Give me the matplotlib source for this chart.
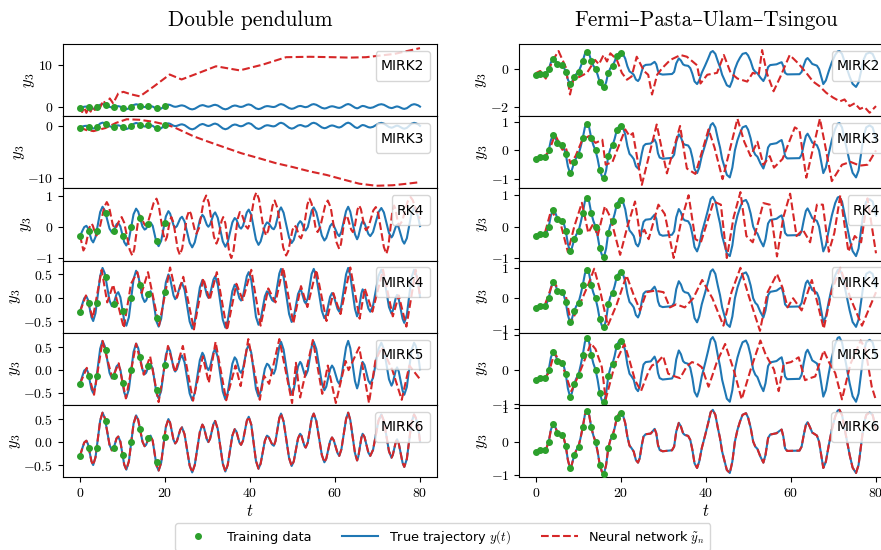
import matplotlib
matplotlib.use("Agg")
import matplotlib.pyplot as plt
from matplotlib.lines import Line2D

plt.rcParams['mathtext.fontset'] = 'cm'
plt.rcParams['font.family'] = ['cmr10', 'DejaVu Serif']
plt.rcParams['axes.formatter.use_mathtext'] = True
plt.rcParams['axes.unicode_minus'] = True

# ---------------- data ----------------
methods = ['MIRK2', 'MIRK3', 'RK4', 'MIRK4', 'MIRK5', 'MIRK6']

# double pendulum, training samples
dp_train_t = [0, 2, 4, 6, 8, 10, 12, 14, 16, 18, 20]
dp_train_y = [-0.30, -0.12, -0.12, 0.45, -0.13, -0.28, 0.00, 0.28, 0.09, -0.44, 0.12]

# double pendulum, true trajectory (t, y)
dp_true = [(0, -0.30), (0.6, -0.12), (1.0, -0.01), (1.5, 0.03), (1.9, -0.05), (2.7, -0.42),
           (3.1, -0.50), (3.65, -0.33), (4.75, 0.47), (5.3, 0.64), (5.85, 0.52), (6.95, -0.06),
           (7.5, -0.18), (7.9, -0.14), (8.6, 0.08), (9.0, 0.12), (9.5, 0.01), (10.4, -0.49),
           (10.9, -0.60), (11.5, -0.42), (12.6, 0.40), (13.2, 0.58), (13.7, 0.48), (14.7, 0.01),
           (15.2, -0.09), (15.55, -0.06), (16.25, 0.11), (16.6, 0.14), (17.1, 0.03), (18.0, -0.51),
           (18.5, -0.62), (19.1, -0.45), (20.2, 0.33), (20.8, 0.50), (21.2, 0.42), (22.0, 0.05),
           (22.4, -0.03), (22.8, 0.02), (23.6, 0.27), (24.0, 0.32), (24.6, 0.17), (25.8, -0.51),
           (26.4, -0.66), (27.0, -0.50), (28.2, 0.22), (28.8, 0.38), (29.15, 0.32), (29.85, 0.06),
           (30.2, 0.00), (30.6, 0.07), (31.4, 0.39), (31.8, 0.46), (32.4, 0.29), (33.6, -0.47),
           (34.2, -0.64), (34.75, -0.50), (35.85, 0.14), (36.4, 0.28), (36.8, 0.23), (37.5, -0.01),
           (37.9, -0.06), (38.35, 0.03), (39.25, 0.46), (39.7, 0.55), (40.3, 0.38), (41.4, -0.41),
           (42.0, -0.58), (42.5, -0.47), (43.5, 0.03), (44.0, 0.14), (44.4, 0.11), (45.2, -0.05),
           (45.6, -0.08), (46.0, 0.02), (46.9, 0.52), (47.3, 0.62), (47.9, 0.45), (49.2, -0.35),
           (49.8, -0.52), (50.3, -0.42), (51.3, 0.08), (51.8, 0.18), (52.1, 0.14), (52.8, -0.08),
           (53.1, -0.12), (53.6, -0.01), (54.5, 0.51), (55.0, 0.62), (55.6, 0.46), (56.9, -0.28),
           (57.5, -0.44), (57.95, -0.36), (58.85, 0.02), (59.3, 0.10), (59.7, 0.04), (60.6, -0.24),
           (61.0, -0.30), (61.5, -0.16), (62.6, 0.50), (63.1, 0.64), (63.6, 0.48), (64.7, -0.24),
           (65.2, -0.40), (65.5, -0.31), (66.2, 0.09), (66.5, 0.18), (66.95, 0.11), (67.85, -0.23),
           (68.3, -0.30), (68.95, -0.17), (70.25, 0.47), (70.9, 0.60), (71.5, 0.46), (72.7, -0.20),
           (73.3, -0.34), (73.6, -0.28), (74.3, 0.00), (74.6, 0.06), (75.0, -0.03), (75.9, -0.45),
           (76.3, -0.54), (76.9, -0.37), (78.0, 0.43), (78.6, 0.60), (79.0, 0.53), (79.6, 0.30),
           (80, 0.02)]

# double pendulum, neural network per method (t, y)
dp_nn_mirk2 = [(0, -0.3), (0.5, -1.3), (1.0, -0.2), (1.5, -1.5), (2.0, -0.4), (2.5, -1.2), (3.0, 0.2),
               (3.5, -0.8), (4.0, 0.6), (4.7, -0.3), (5.5, 1.5), (6.2, 0.3), (7.0, 2.0), (7.8, 0.8),
               (9.0, 3.2), (10.2, 3.6), (12.0, 3.0), (14.1, 2.5), (17.5, 5.0), (21.1, 7.8),
               (23.9, 6.6), (28, 8.2), (32.0, 9.8), (37.6, 8.8), (43, 10.2), (48.5, 12.0), (54, 12.1),
               (59.5, 12.0), (63.5, 11.9), (67.3, 12.0), (74, 12.8), (80, 14.2)]
dp_nn_mirk3 = [(0, -0.3), (1.5, -0.8), (3.2, -1.0), (6, -0.4), (8.5, 0.6), (11, 1.3), (14, 1.2),
               (17.3, 0.8), (20, 0.3), (22, -0.2), (26.7, -2.0), (30, -3.0), (34.5, -4.3), (38, -5.3),
               (42.3, -6.3), (46, -7.2), (50.2, -8.0), (54, -8.8), (58, -9.5), (62, -10.4),
               (65.7, -11.2), (69.7, -11.6), (73.6, -11.5), (77, -11.2), (80, -10.9)]
dp_nn_rk4 = [(0, -0.28), (0.8, -0.76), (1.3, -0.63), (2.2, -0.03), (2.7, 0.10), (3.0, 0.04),
             (3.6, -0.22), (3.9, -0.28), (4.5, -0.12), (5.7, 0.63), (6.3, 0.79), (6.8, 0.66),
             (7.7, 0.07), (8.2, -0.06), (8.6, 0.0), (9.4, 0.25), (9.8, 0.31), (10.4, 0.13),
             (11.7, -0.74), (12.3, -0.92), (12.75, -0.73), (13.65, 0.17), (14.1, 0.36), (14.4, 0.31),
             (15.1, 0.09), (15.4, 0.04), (16.05, 0.17), (17.35, 0.77), (18.0, 0.90), (18.5, 0.70),
             (19.6, -0.24), (20.1, -0.44), (20.45, -0.33), (21.15, 0.20), (21.5, 0.31), (22.0, 0.13),
             (23.0, -0.72), (23.5, -0.90), (24.05, -0.69), (25.15, 0.31), (25.7, 0.52), (26.1, 0.41),
             (27.0, -0.11), (27.4, -0.22), (28.0, -0.04), (29.1, 0.82), (29.7, 1.00), (30.3, 0.77),
             (31.5, -0.31), (32.1, -0.54), (32.5, -0.41), (33.3, 0.18), (33.7, 0.31), (34.2, 0.11),
             (35.1, -0.80), (35.6, -1.00), (36.1, -0.78), (37.1, 0.25), (37.6, 0.47), (38.1, 0.39),
             (39.0, 0.02), (39.5, -0.06), (40.0, 0.11), (41.0, 0.93), (41.5, 1.10), (42.1, 0.89),
             (43.2, -0.07), (43.8, -0.28), (44.3, -0.11), (45.3, 0.67), (45.8, 0.84), (46.5, 0.58),
             (47.8, -0.66), (48.5, -0.92), (49.0, -0.78), (50.0, -0.10), (50.5, 0.04), (50.9, -0.02),
             (51.6, -0.31), (52.0, -0.37), (52.5, -0.18), (53.5, 0.71), (54.0, 0.90), (54.5, 0.74),
             (55.4, -0.01), (55.9, -0.17), (56.5, -0.02), (57.7, 0.69), (58.3, 0.84), (59.0, 0.61),
             (60.3, -0.48), (61.0, -0.71), (61.4, -0.55), (62.2, 0.20), (62.6, 0.36), (63.0, 0.28),
             (63.8, -0.09), (64.2, -0.17), (64.6, -0.04), (65.3, 0.55), (65.7, 0.68), (66.1, 0.56),
             (66.9, 0.01), (67.3, -0.11), (67.9, 0.0), (69.0, 0.52), (69.6, 0.63), (70.2, 0.41),
             (71.5, -0.65), (72.1, -0.87), (72.55, -0.64), (73.45, 0.45), (73.9, 0.68), (74.2, 0.58),
             (74.8, 0.14), (75.1, 0.04), (75.8, 0.18), (77.1, 0.81), (77.8, 0.95), (78.3, 0.85),
             (79.2, 0.5), (80, 0.26)]
dp_nn_mirk4 = [(0, -0.3), (1.4, 0.05), (3.0, -0.44), (5.1, 0.6), (6.4, -0.1), (7.8, 0.28), (10.3, -0.65),
               (12.0, 0.3), (13.5, 0.55), (14.5, 0.1), (16.0, 0.55), (18.6, -0.6), (21.2, 0.65),
               (22.8, 0.0), (24.3, 0.45), (26.8, -0.68), (29.0, 0.42), (30.5, -0.05), (32.2, 0.55),
               (34.6, -0.7), (36.8, 0.3), (38.3, -0.05), (40.3, 0.6), (42.5, -0.6), (44.3, 0.2),
               (46.0, -0.1), (47.8, 0.65), (50.2, -0.55), (52.0, 0.25), (53.5, -0.2), (55.6, 0.6),
               (58.0, -0.5), (59.6, 0.1), (61.3, -0.35), (63.6, 0.65), (65.8, -0.45), (67.0, 0.2),
               (68.8, -0.3), (71.3, 0.6), (73.6, -0.4), (75.0, 0.05), (76.8, -0.62), (79.0, 0.6),
               (80, 0.05)]
dp_nn_mirk5 = [(0, -0.3), (1.6, 0.05), (3.3, -0.54), (5.3, 0.64), (7.6, -0.18), (9.1, 0.15), (10.8, -0.62),
               (13.2, 0.58), (15.0, -0.1), (16.5, 0.3), (18.5, -0.7), (20.7, 0.53), (22.4, -0.05),
               (24.2, 0.53), (26.6, -0.67), (28.9, 0.3), (30.3, -0.28), (31.9, 0.62), (34.4, -0.66),
               (36.6, 0.1), (37.8, -0.35), (39.6, 0.68), (42.3, -0.65), (43.3, -0.12), (44.5, -0.3),
               (46.9, 0.68), (49.9, -0.72), (50.8, 0.16), (51.8, -0.6), (54.8, 0.66), (57.0, -0.52),
               (58.3, 0.1), (60.2, -0.72), (62.5, 0.2), (63.2, 0.0), (65.7, 0.5), (68.0, -0.72),
               (69.5, 0.2), (71.0, 0.5), (73.5, 0.0), (75.7, -0.65), (77.5, 0.1), (80, -0.2)]

# Fermi-Pasta-Ulam-Tsingou, training samples
fput_train_t = [0, 1, 2, 3, 4, 5, 6, 7, 8, 9, 10, 11, 12, 13, 14, 15, 16, 17, 18, 19, 20]
fput_train_y = [-0.31, -0.24, -0.24, 0.00, 0.52, 0.25, 0.19, -0.13, -0.79, -0.41, -0.15, 0.43,
                0.92, 0.43, 0.00, -0.69, -0.96, -0.20, 0.17, 0.70, 0.85]

fput_true = [(0, -0.31), (0.5, -0.27), (1.0, -0.24), (1.5, -0.27), (2.0, -0.25), (2.5, -0.18), (3.0, 0.0),
             (3.5, 0.35), (4.1, 0.56), (4.6, 0.42), (5.0, 0.28), (5.5, 0.22), (6.0, 0.20), (6.5, 0.12),
             (7.0, -0.13), (7.5, -0.55), (8.0, -0.79), (8.4, -0.70), (9.0, -0.41), (9.5, -0.25),
             (10.0, -0.15), (10.5, 0.12), (11.0, 0.43), (11.5, 0.80), (12.0, 0.95), (12.5, 0.80),
             (13.0, 0.43), (13.5, 0.18), (14.0, 0.0), (14.5, -0.30), (15.0, -0.69), (15.5, -0.90),
             (16.0, -0.96), (16.5, -0.70), (17.0, -0.20), (17.5, 0.05), (18.0, 0.17), (18.5, 0.40),
             (19.0, 0.70), (19.5, 0.83), (20.0, 0.87), (20.4, 0.82), (21.0, 0.55), (21.5, 0.15),
             (22.0, -0.12), (22.5, -0.20), (23.0, -0.30), (23.5, -0.55), (24.0, -0.63), (24.4, -0.50),
             (24.9, -0.10), (25.3, 0.15), (25.8, 0.22), (27.0, 0.24), (27.5, 0.32), (27.9, 0.38),
             (28.3, 0.25), (28.7, -0.10), (29.1, -0.25), (29.8, -0.29), (32.0, -0.26), (32.5, -0.15),
             (33.0, 0.30), (33.6, 0.56), (34.1, 0.45), (34.6, 0.25), (35.0, 0.20), (35.8, 0.17),
             (36.3, 0.05), (36.8, -0.25), (37.3, -0.65), (37.9, -0.79), (38.4, -0.60), (39.0, -0.20),
             (39.8, 0.19), (40.5, 0.55), (41.1, 0.88), (41.6, 0.95), (42.2, 0.80), (42.8, 0.40),
             (43.3, 0.10), (43.8, -0.30), (44.4, -0.60), (44.9, -0.85), (45.6, -0.94), (46.2, -0.60),
             (46.8, 0.0), (47.4, 0.35), (48.0, 0.60), (48.6, 0.80), (49.4, 0.85), (49.9, 0.72),
             (50.5, 0.42), (51.1, 0.0), (51.6, -0.15), (52.1, -0.22), (52.8, -0.45), (53.5, -0.63),
             (54.0, -0.40), (54.6, 0.10), (55.1, 0.21), (56.6, 0.25), (57.3, 0.32), (57.8, 0.36),
             (58.2, 0.15), (58.6, -0.20), (59.1, -0.28), (62.0, -0.27), (62.5, -0.15), (63.0, 0.20),
             (63.5, 0.50), (63.9, 0.58), (64.4, 0.45), (65.0, 0.27), (66.1, 0.18), (66.6, 0.0),
             (67.1, -0.40), (67.6, -0.79), (68.2, -0.60), (68.9, -0.10), (69.6, 0.35), (70.4, 0.75),
             (71.0, 0.93), (71.4, 0.95), (72.0, 0.80), (72.6, 0.40), (73.2, 0.0), (73.8, -0.40),
             (74.5, -0.78), (75.3, -0.94), (75.9, -0.70), (76.5, -0.10), (77.1, 0.50), (77.7, 0.80),
             (78.5, 0.87), (79.2, 0.80), (79.7, 0.55), (80, 0.35)]

fput_nn_mirk2 = [(0, -0.21), (1, -0.1), (2.3, -0.5), (3.1, 0.0), (3.9, 0.44), (5.3, 0.95), (7.0, 0.1),
                 (8.0, -1.34), (8.8, -0.56), (10.4, -0.39), (12.0, -0.2), (13.9, 0.48), (14.8, 0.25),
                 (15.9, 0.74), (16.7, 0.4), (17.5, 0.83), (19, 0.5), (20.2, -0.2), (21.4, -0.56),
                 (22.5, -0.39), (23.7, 0.65), (24.5, 0.3), (25.4, -0.1), (26.4, -0.3), (27.3, -1.34),
                 (28.5, -0.3), (29.7, 0.05), (31.6, 0.48), (34.0, 0.74), (35.5, 0.65), (37.9, 0.2),
                 (38.7, -0.76), (40.3, -0.3), (42.6, -0.2), (44.2, 0.74), (45.8, -0.2), (47.4, -0.5),
                 (49.7, -0.66), (51, -0.2), (52.4, -0.3), (53.2, 1.0), (54.3, -0.2), (55.9, -1.17),
                 (57.5, -0.4), (59.7, 0.74), (61.7, 0.3), (63.6, -0.2), (65.2, -0.66), (66.7, -0.9),
                 (68.3, -1.25), (69.9, -1.5), (71.5, -1.7), (72.6, -1.6), (73.8, -1.95), (75, -1.8),
                 (76.2, -2.1), (77.3, -2.0), (78.5, -2.3), (80, -1.95)]
fput_nn_mirk3 = [(0, -0.27), (2, -0.2), (3, -0.05), (4.5, 0.55), (6.2, 0.02), (7, 0.1), (8.1, -0.45),
                 (9.3, -0.2), (10.9, 0.37), (12.5, 0.5), (14.0, 0.26), (15.6, 0.37), (16.4, -0.5),
                 (18, -0.4), (21, 0.73), (22, 0.5), (22.8, 0.6), (24.9, -1.2), (28.4, 0.9), (30.8, -0.8),
                 (33.9, 0.85), (35.5, -0.63), (37.5, -0.82), (40.6, 0.73), (42, 0.1), (43.9, -1.0),
                 (47.4, 1.1), (49, 0.3), (50.5, -0.2), (52.1, 0.3), (53.5, -0.5), (55, -0.2), (56, -0.6),
                 (58, -0.3), (60.9, 0.8), (62, 0.7), (63.6, -0.95), (66.8, 1.1), (68, 0.2), (69.6, -1.07),
                 (72, -0.5), (74, -0.4), (76.2, -0.53), (78, -0.5), (80, 0.0)]
fput_nn_rk4 = [(0, -0.3), (2, -0.25), (3.6, 0.54), (4.5, 0.3), (5.5, 0.25), (7.5, -0.81), (9, 0.0),
               (10.8, 0.76), (12.3, -0.2), (13.5, 0.1), (14.5, -0.3), (16.2, 0.65), (17.5, 0.3),
               (19.8, -0.9), (21.5, 0.0), (23.3, 0.8), (24.5, -0.3), (25.5, -0.1), (26.5, -0.4),
               (28.8, 0.7), (30.3, 0.4), (32.4, -1.0), (34.2, 0.2), (35.9, 1.0), (37.5, -0.4),
               (38.8, -0.5), (41.8, 0.8), (43.5, 0.7), (44.9, -1.0), (46.5, 0.3), (48.1, 1.1),
               (49.5, -0.3), (51, -0.5), (53.5, 0.75), (55, 0.7), (56.7, -0.95), (58.2, 0.3),
               (59.8, 1.05), (61.3, -0.3), (62.8, -0.1), (64.5, -0.5), (66.1, 0.7), (67.5, 0.7),
               (68.9, -0.8), (70.2, -0.2), (71.6, 1.0), (73.5, -0.8), (75, -0.3), (76.5, -0.5),
               (78, 0.9), (80, -0.85)]
fput_nn_mirk4 = [(0, -0.3), (2, -0.25), (4.1, 0.55), (5.5, 0.25), (7, 0.1), (8.2, -0.8), (10, -0.3),
                 (12.3, 0.45), (13.7, 0.97), (15, 0.3), (16.9, -0.9), (19, -0.2), (21.3, 0.75),
                 (23, 0.1), (24.5, -0.4), (26, 0.2), (28, 0.25), (30, 0.2), (31.5, -0.3), (33, -0.2),
                 (35, -0.3), (37, 0.0), (39.1, 0.6), (41.5, 0.0), (44.1, -0.9), (46, 0.2), (48.1, 1.0),
                 (50, 0.1), (52.7, -1.07), (54.5, 0.2), (56.7, 0.8), (58, 0.35), (59.2, -0.3),
                 (60.5, 0.0), (62.5, -0.4), (64.9, 0.6), (67.7, -1.0), (69.5, 0.2), (71.6, 1.0),
                 (74, 0.0), (76.7, -0.9), (78.5, -0.3), (80, 0.2)]
fput_nn_mirk5 = [(0, -0.3), (2, -0.25), (3, -0.1), (4.3, 0.48), (6, 0.2), (8.3, -0.63), (9.9, -0.2),
                 (11.5, 0.3), (12.9, 0.77), (14, 0.6), (15.5, 0.07), (16.4, -0.87), (18.6, 0.17),
                 (20.8, 0.75), (22.0, 0.27), (23.3, -0.31), (24.7, -0.63), (26.5, -0.05), (27.3, 0.12),
                 (28.5, 0.2), (29.9, 0.4), (31.1, -0.12), (32.7, -0.2), (33.9, -0.25), (35.5, 0.1),
                 (36.7, 0.22), (37.9, 0.17), (39.0, 0.07), (40.6, -0.5), (42.5, 0.2), (44.5, 0.75),
                 (46.5, 0.0), (48.4, -0.87), (50.5, 0.0), (52.8, 0.85), (54, 0.45), (56, 0.0),
                 (57.1, -0.63), (58.3, 0.17), (60, 0.22), (61.8, 0.36), (63.3, -0.31), (64.5, -0.25),
                 (65.7, -0.2), (67.7, 0.56), (69, 0.2), (70.4, -0.1), (72, -0.87), (74, 0.17),
                 (76.4, 0.85), (77.5, 0.6), (79.0, -0.5), (80, -0.9)]

# MIRK6 networks sit on top of the true trajectories
dp_nn = {'MIRK2': dp_nn_mirk2, 'MIRK3': dp_nn_mirk3, 'RK4': dp_nn_rk4,
         'MIRK4': dp_nn_mirk4, 'MIRK5': dp_nn_mirk5, 'MIRK6': dp_true}
fput_nn = {'MIRK2': fput_nn_mirk2, 'MIRK3': fput_nn_mirk3, 'RK4': fput_nn_rk4,
           'MIRK4': fput_nn_mirk4, 'MIRK5': fput_nn_mirk5, 'MIRK6': fput_true}

# axis ranges and ticks per row
dp_ylim = [(-2.3, 15.2), (-12.1, 1.9), (-1.08, 1.23), (-0.75, 0.80), (-0.76, 0.82), (-0.76, 0.81)]
dp_yticks = [[0, 10], [-10, 0], [-1, 0, 1], [-0.5, 0, 0.5], [-0.5, 0, 0.5], [-0.5, 0, 0.5]]
fput_ylim = [(-2.48, 1.32), (-1.32, 1.19), (-1.08, 1.22), (-1.13, 1.24), (-1.03, 1.08), (-1.06, 1.10)]
fput_yticks = [[-2, 0], [-1, 0, 1], [-1, 0, 1], [-1, 0, 1], [-1, 0, 1], [-1, 0, 1]]

# ---------------- figure ----------------
W, H = 881, 550
fig = plt.figure(figsize=(W / 100, H / 100), dpi=100)

col_left = [63 / W, 519 / W]
col_w = 374 / W
top_px, row_px = 44, (477 - 44) / 6

columns = [
    ('Double pendulum', dp_train_t, dp_train_y, dp_true, dp_nn, dp_ylim, dp_yticks),
    ('Fermi–Pasta–Ulam–Tsingou', fput_train_t, fput_train_y, fput_true, fput_nn, fput_ylim, fput_yticks),
]

for c, (title, tr_t, tr_y, true, nn, ylims, yticks) in enumerate(columns):
    true_t, true_y = zip(*true)
    for r, m in enumerate(methods):
        nn_t, nn_y = zip(*nn[m])
        bottom = 1 - (top_px + (r + 1) * row_px) / H
        ax = fig.add_axes([col_left[c], bottom, col_w, row_px / H])
        ax.plot(tr_t, tr_y, 'o', color='tab:green', ms=4, zorder=3)
        ax.plot(true_t, true_y, '-', color='tab:blue', lw=1.5, zorder=2)
        ax.plot(nn_t, nn_y, '--', color='tab:red', lw=1.5, zorder=2.5)
        ax.set_xlim(-4, 84)
        ax.set_ylim(*ylims[r])
        ax.set_yticks(yticks[r])
        ax.set_xticks([0, 20, 40, 60, 80])
        ax.tick_params(labelsize=10)
        if r < 5:
            ax.tick_params(labelbottom=False, bottom=False)
        else:
            ax.set_xlabel('$t$', fontsize=12, labelpad=2)
        ax.set_ylabel('$y_3$', fontsize=12, labelpad=0.5)
        # method name, drawn as a handle-less legend box
        ax.legend([Line2D([], [], ls='none')], [m], loc='upper right',
                  handlelength=0, handletextpad=0, handleheight=1.7,
                  prop={'family': 'DejaVu Sans', 'size': 10})
        if r == 0:
            ax.set_title(title, fontsize=15.3, pad=13)

handles = [
    Line2D([], [], ls='none', marker='o', color='tab:green', ms=4),
    Line2D([], [], ls='-', color='tab:blue', lw=1.5),
    Line2D([], [], ls='--', color='tab:red', lw=1.5),
]
labels = ['Training data', 'True trajectory $y(t)$', r'Neural network $\tilde{y}_n$']
fig.legend(handles, labels, loc='center', ncol=3, bbox_to_anchor=(0.5023, 0.0236),
           prop={'family': 'DejaVu Sans', 'size': 9.3}, handlelength=2.8,
           columnspacing=2.4)

fig.savefig('out.png', dpi=100)
